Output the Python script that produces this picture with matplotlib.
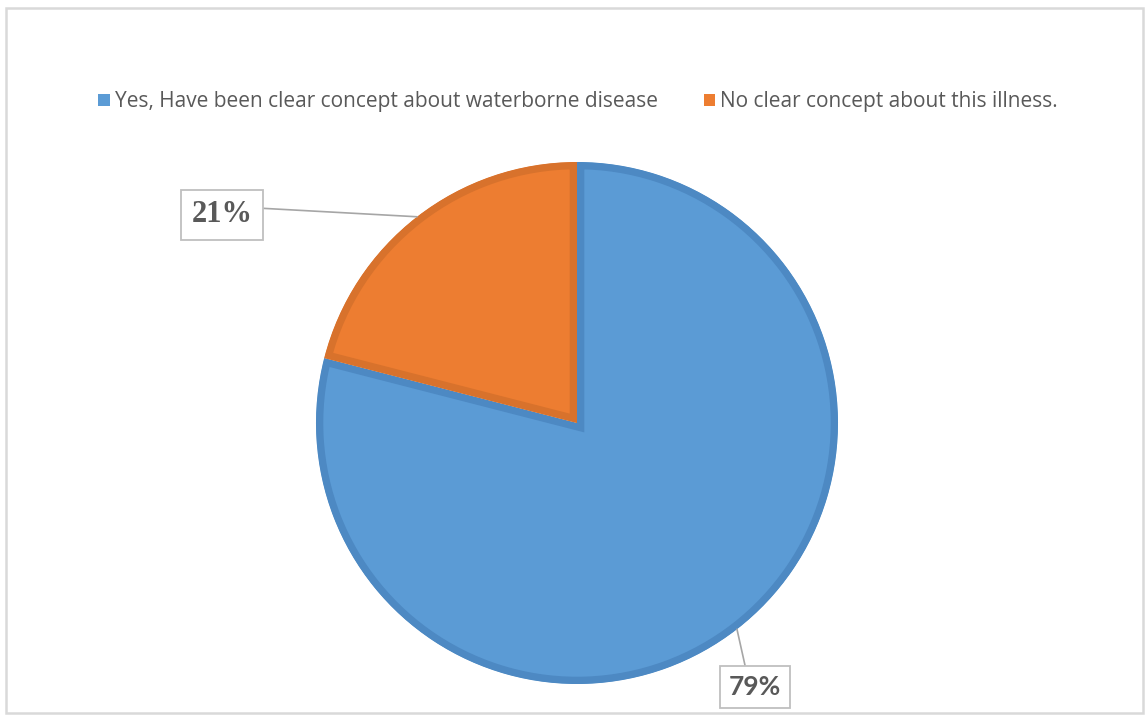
import numpy as np
import matplotlib.pyplot as plt
from matplotlib.patches import Rectangle

labels = ["Yes, Have been clear concept about waterborne disease",
          "No clear concept about this illness."]
shares = [79, 21]
pct_text = ["79%", "21%"]

fills = ["#5B9BD5", "#ED7D31"]
edges = ["#4D89C3", "#D8722C"]

W, H = 1145, 715
fig = plt.figure(figsize=(W / 100, H / 100), dpi=100)
ax = fig.add_axes([0, 0, 1, 1])

cx, cy, r = 577, H - 423, 261
wedges, _ = ax.pie(shares, colors=fills, startangle=90, counterclock=False,
                   center=(cx, cy), radius=r, frame=True,
                   wedgeprops=dict(linewidth=10.5, joinstyle="miter"))
for w, ec in zip(wedges, edges):
    w.set_edgecolor(ec)
    w.set_clip_on(True)
    w.set_clip_path(w)  # keep the stroke inside each slice
ax.set_xlim(0, W)
ax.set_ylim(0, H)
ax.set_aspect("equal")
ax.axis("off")

# data labels with leader lines to the slice midpoints
boxes = {"79%": ((755, H - 687), "Lato", "bold", 19, (0.35, 1.0)),
         "21%": ((222, H - 215), "Liberation Serif", "bold", 22, (1.0, 0.75))}
for w, txt in zip(wedges, pct_text):
    mid = np.deg2rad((w.theta1 + w.theta2) / 2)
    anchor = (cx + r * np.cos(mid), cy + r * np.sin(mid))
    pos, fam, wt, fs, rel = boxes[txt]
    ax.annotate(txt, xy=anchor, xytext=pos, ha="center", va="center",
                family=fam, weight=wt, fontsize=fs, color="#595959",
                bbox=dict(boxstyle="square,pad=0.35", fc="white", ec="#BFBFBF", lw=1.3),
                arrowprops=dict(arrowstyle="-", color="#A6A6A6", lw=1.2,
                                relpos=rel, shrinkA=0, shrinkB=0))

handles = [Rectangle((0, 0), 1, 1, fc=c) for c in fills]
fig.legend(handles, labels, loc="center", bbox_to_anchor=(578 / W, 1 - 102 / H),
           ncol=2, frameon=False, prop=dict(family="Open Sans", size=15),
           labelcolor="#595959", handlelength=0.55, handleheight=0.55,
           handletextpad=0.25, columnspacing=2.2)

# outer chart border
fig.add_artist(Rectangle((6 / W, 2 / H), 1137 / W, 705 / H, transform=fig.transFigure,
                         fill=False, ec="#D9D9D9", lw=1.8))

fig.savefig("out.png", dpi=100)
